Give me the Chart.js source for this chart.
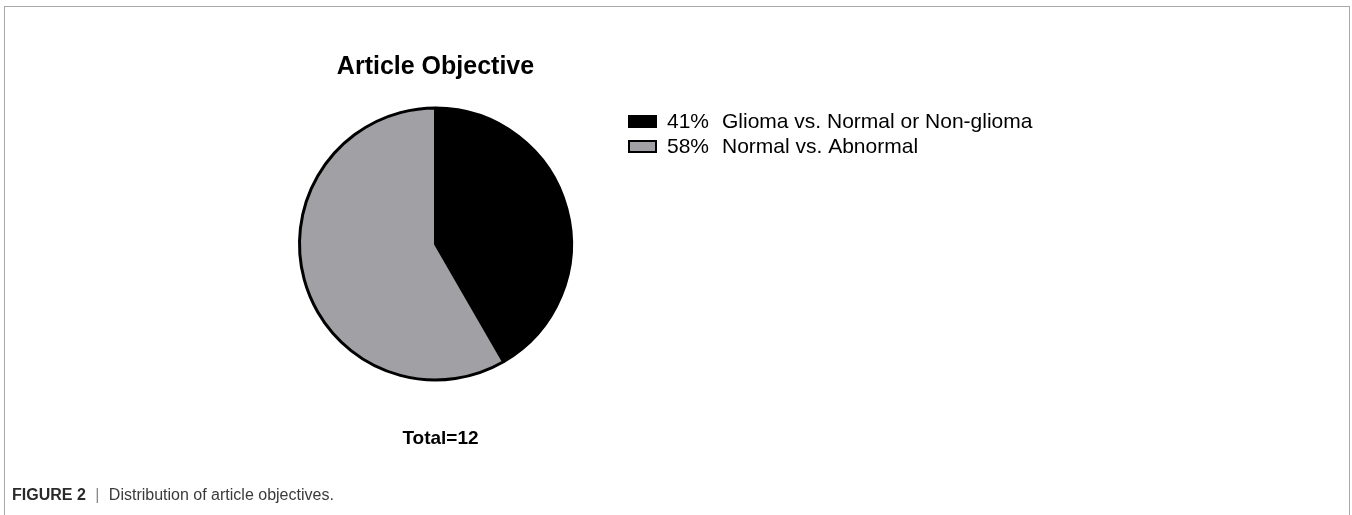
<!DOCTYPE html>
<html>
<head>
<meta charset="utf-8">
<script src="https://cdn.jsdelivr.net/npm/chart.js@4.4.0/dist/chart.umd.min.js"></script>
<style>
  html, body { margin: 0; padding: 0; background: #fff; }
  body { width: 1352px; height: 515px; position: relative; overflow: hidden; font-family: "Liberation Sans", Arial, Helvetica, sans-serif; }
  #frame { position: absolute; left: 4px; top: 6px; width: 1346px; height: 520px; border: 1px solid #a8a8a8; border-bottom: none; box-sizing: border-box; }
  #wrap { position: absolute; left: 0; top: 0; width: 1352px; height: 515px; }
  #caption { position: absolute; left: 12px; top: 486px; font-size: 16px; color: #3a3a3a; white-space: nowrap; }
  #caption b { color: #2a2a2a; }
  #caption .bar { color: #888; margin: 0 5px; }
</style>
</head>
<body>
<div id="frame"></div>
<div id="wrap"><canvas id="c" width="1352" height="515"></canvas></div>
<div id="caption"><b>FIGURE 2</b><span class="bar"> | </span>Distribution of article objectives.</div>
<script>
const categories = ["Glioma vs. Normal or Non-glioma", "Normal vs. Abnormal"];
const counts = [5, 7];
const percentLabels = ["41%", "58%"];
const sliceColors = ["#000000", "#a1a0a5"];
const chartTitle = "Article Objective";
const totalLabel = "Total=12";

const FONT = '"Liberation Sans", Arial, Helvetica, sans-serif';

const overlay = {
  id: 'overlay',
  afterDraw(chart) {
    const ctx = chart.ctx;
    const meta = chart.getDatasetMeta(0);
    const arc = meta.data[0];
    const cx = arc.x, cy = arc.y, r = arc.outerRadius;
    ctx.save();
    ctx.fillStyle = '#000';
    ctx.textAlign = 'center';
    ctx.textBaseline = 'alphabetic';
    ctx.font = 'bold 25px ' + FONT;
    ctx.fillText(chartTitle, cx, cy - r - 34);
    ctx.font = 'bold 19px ' + FONT;
    ctx.fillText(totalLabel, cx + 5, cy + r + 64);
    // legend
    ctx.textAlign = 'left';
    ctx.textBaseline = 'middle';
    ctx.font = '21px ' + FONT;
    const lx = 628, ly0 = 121.5, step = 25;
    categories.forEach((cat, i) => {
      const y = ly0 + i * step;
      ctx.fillStyle = sliceColors[i];
      ctx.fillRect(lx, y - 6.5, 29, 13);
      ctx.lineWidth = 2;
      ctx.strokeStyle = '#000';
      ctx.strokeRect(lx + 1, y - 5.5, 27, 11);
      ctx.fillStyle = '#000';
      ctx.fillText(percentLabels[i], 667, y + 1);
      ctx.fillText(cat, 722, y + 1);
    });
    ctx.restore();
  }
};

new Chart(document.getElementById('c'), {
  type: 'pie',
  data: {
    labels: categories,
    datasets: [{
      data: counts,
      backgroundColor: sliceColors,
      borderColor: '#000',
      borderWidth: 3,
      borderAlign: 'center'
    }]
  },
  options: {
    responsive: false,
    animation: false,
    events: [],
    layout: { padding: { left: 298, right: 779, top: 106, bottom: 133 } },
    plugins: {
      legend: { display: false },
      title: { display: false },
      tooltip: { enabled: false }
    }
  },
  plugins: [overlay]
});
</script>
</body>
</html>
